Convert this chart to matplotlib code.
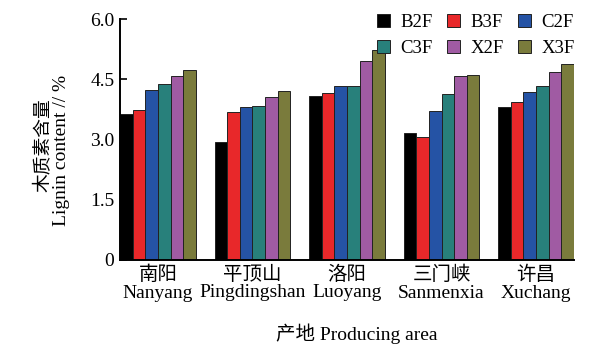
import matplotlib
matplotlib.use("Agg")
import matplotlib.pyplot as plt
import numpy as np

plt.rcParams['font.family'] = ['Liberation Serif', 'Noto Sans CJK SC', 'DejaVu Sans']

areas = ["南阳\nNanyang", "平顶山\nPingdingshan", "洛阳\nLuoyang", "三门峡\nSanmenxia", "许昌\nXuchang"]
grades = ["B2F", "B3F", "C2F", "C3F", "X2F", "X3F"]
B2F = [3.63, 2.93, 4.08, 3.15, 3.82]
B3F = [3.73, 3.68, 4.15, 3.06, 3.94]
C2F = [4.23, 3.82, 4.32, 3.72, 4.18]
C3F = [4.37, 3.84, 4.34, 4.14, 4.34]
X2F = [4.57, 4.05, 4.95, 4.57, 4.67]
X3F = [4.74, 4.21, 5.22, 4.60, 4.88]
series = [B2F, B3F, C2F, C3F, X2F, X3F]
colors = ["#000000", "#e8282a", "#2553a5", "#28807b", "#a05ba3", "#7a7b3c"]
yticks = [0, 1.5, 3.0, 4.5, 6.0]
ytick_labels = ["0", "1.5", "3.0", "4.5", "6.0"]

fig = plt.figure(figsize=(6.07, 3.49), dpi=100)
ax = fig.add_axes([120/607, 1-260/349, (574-120)/607, (260-19)/349])

x = np.arange(len(areas))
w = 0.134
handles = []
for i, (vals, c, g) in enumerate(zip(series, colors, grades)):
    h = ax.bar(x + (i - 2.5) * w, vals, width=w, color=c, edgecolor="#222222",
               linewidth=0.7, label=g)
    handles.append(h)

ax.set_xlim(-3 * w, len(areas) - 1 + 3 * w)
ax.set_ylim(0, 6.0)
ax.set_yticks(yticks)
ax.set_yticklabels(ytick_labels, fontsize=14)
ax.set_xticks(x)
ax.set_xticklabels(areas, fontsize=14, linespacing=1.05)
ax.tick_params(axis='x', length=0, pad=4)
ax.tick_params(axis='y', direction='in', length=5, width=1.2, pad=4)
for s in ["top", "right"]:
    ax.spines[s].set_visible(False)
ax.spines["left"].set_linewidth(1.4)
ax.spines["bottom"].set_linewidth(1.4)

order = [0, 3, 1, 4, 2, 5]
ax.legend([handles[k] for k in order], [grades[k] for k in order], ncol=3,
          loc="upper right", bbox_to_anchor=(1.03, 1.075), frameon=False,
          fontsize=13.5, handlelength=0.7, handleheight=0.7, handletextpad=0.55,
          columnspacing=0.75, labelspacing=0.45, borderpad=0.2)

fig.text(44/607, 1-145/349, "木质素含量", rotation=90, ha="center", va="center", fontsize=13.5)
fig.text(62/607, 1-150/349, "Lignin content // %", rotation=90, ha="center", va="center", fontsize=14)
fig.text(357/607, 1-334/349, "产地 Producing area", ha="center", va="center", fontsize=14)

fig.savefig("out.png", dpi=100)
